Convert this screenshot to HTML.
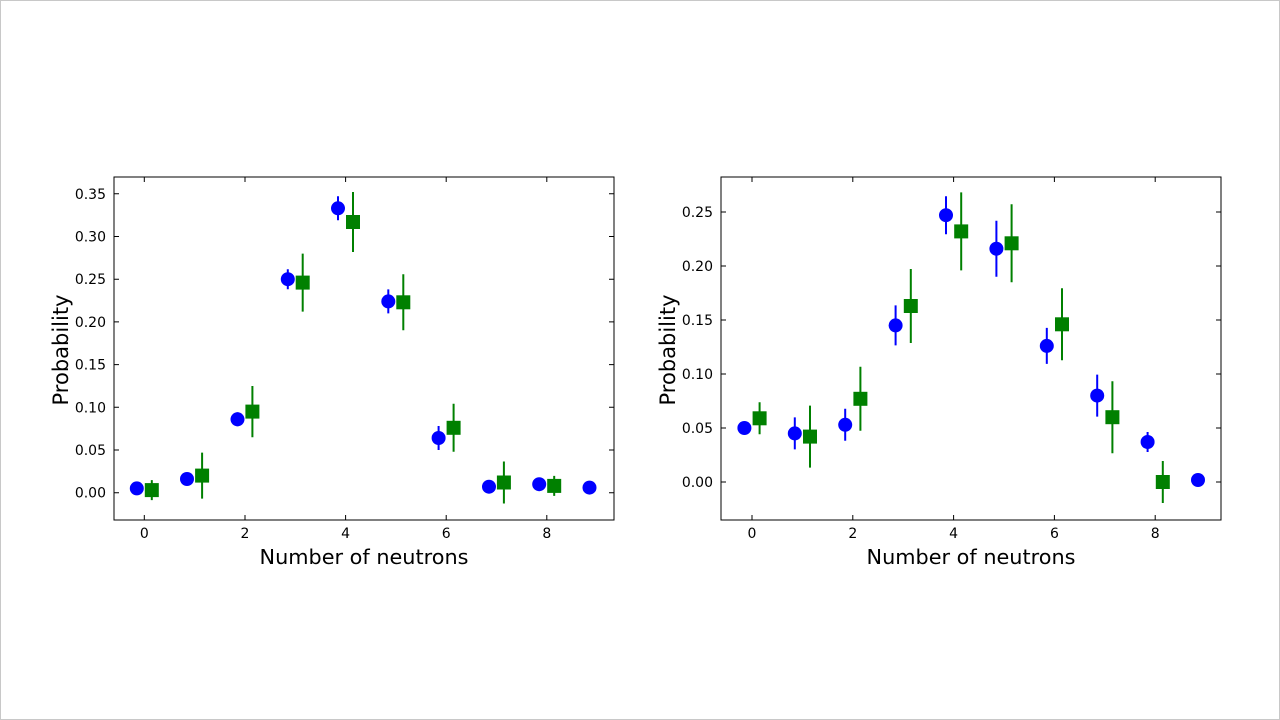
<!DOCTYPE html>
<html><head><meta charset="utf-8"><style>
html,body{margin:0;padding:0;background:#fff;}
svg{display:block;}
text{font-family:"DejaVu Sans","Liberation Sans",sans-serif;fill:#000;}
</style></head><body>
<svg width="1280" height="720" viewBox="0 0 1280 720" xmlns="http://www.w3.org/2000/svg">
<rect x="0.5" y="0.5" width="1279" height="719" fill="#fff" stroke="#c8c8c8"/>
<!-- LEFT -->
<g stroke="#000" stroke-width="1">
<rect x="114" y="177" width="500" height="343" fill="none"/>
<path d="M144.3,520v-5M245,520v-5M345.6,520v-5M446.2,520v-5M546.8,520v-5M144.3,177v5M245,177v5M345.6,177v5M446.2,177v5M546.8,177v5
M114,492.7h5M114,450h5M114,407.3h5M114,364.6h5M114,321.9h5M114,279.2h5M114,236.5h5M114,193.8h5
M614,492.7h-5M614,450h-5M614,407.3h-5M614,364.6h-5M614,321.9h-5M614,279.2h-5M614,236.5h-5M614,193.8h-5"/>
</g>
<g font-size="14" text-anchor="end">
<text x="106" y="497.7">0.00</text><text x="106" y="455">0.05</text><text x="106" y="412.3">0.10</text><text x="106" y="369.6">0.15</text><text x="106" y="326.9">0.20</text><text x="106" y="284.2">0.25</text><text x="106" y="241.5">0.30</text><text x="106" y="198.8">0.35</text>
</g>
<g font-size="14" text-anchor="middle">
<text x="144.3" y="538">0</text><text x="245" y="538">2</text><text x="345.6" y="538">4</text><text x="446.2" y="538">6</text><text x="546.8" y="538">8</text>
</g>
<text x="364" y="564" font-size="20.8" text-anchor="middle">Number of neutrons</text>
<text transform="translate(68,350) rotate(-90)" font-size="21" text-anchor="middle">Probability</text>
<g stroke="#0000ff" stroke-width="2">
<path d="M237.5,412.3v14M287.8,269.2v20M338,196.3v24M388.3,289.4v24M438.6,426v24"/>
</g>
<g fill="#0000ff">
<circle cx="136.8" cy="488.4" r="7"/><circle cx="187" cy="479" r="7"/><circle cx="237.5" cy="419.3" r="7"/><circle cx="287.8" cy="279.2" r="7"/><circle cx="338" cy="208.3" r="7"/><circle cx="388.3" cy="301.4" r="7"/><circle cx="438.6" cy="438" r="7"/><circle cx="489" cy="486.7" r="7"/><circle cx="539.2" cy="484.2" r="7"/><circle cx="589.5" cy="487.6" r="7"/>
</g>
<g stroke="#008000" stroke-width="2">
<path d="M151.8,480.1v20M202.1,452.6v46M252.4,386v51.2M302.7,253.6v58M353,192v60M403.3,274.3v56M453.6,403.8v48M503.9,461.5v42M554.2,475.9v20"/>
</g>
<g fill="#008000">
<rect x="144.8" y="483.1" width="14" height="14"/><rect x="195.1" y="468.6" width="14" height="14"/><rect x="245.4" y="404.6" width="14" height="14"/><rect x="295.7" y="275.6" width="14" height="14"/><rect x="346" y="215" width="14" height="14"/><rect x="396.3" y="295.3" width="14" height="14"/><rect x="446.6" y="420.8" width="14" height="14"/><rect x="496.9" y="475.5" width="14" height="14"/><rect x="547.2" y="478.9" width="14" height="14"/>
</g>
<!-- RIGHT -->
<g stroke="#000" stroke-width="1">
<rect x="721" y="177" width="500" height="343" fill="none"/>
<path d="M752,520v-5M852.8,520v-5M953.6,520v-5M1054.4,520v-5M1155.2,520v-5M752,177v5M852.8,177v5M953.6,177v5M1054.4,177v5M1155.2,177v5
M721,482h5M721,428h5M721,374h5M721,320h5M721,266h5M721,212h5
M1221,482h-5M1221,428h-5M1221,374h-5M1221,320h-5M1221,266h-5M1221,212h-5"/>
</g>
<g font-size="14" text-anchor="end">
<text x="713" y="487">0.00</text><text x="713" y="433">0.05</text><text x="713" y="379">0.10</text><text x="713" y="325">0.15</text><text x="713" y="271">0.20</text><text x="713" y="217">0.25</text>
</g>
<g font-size="14" text-anchor="middle">
<text x="752" y="538">0</text><text x="852.8" y="538">2</text><text x="953.6" y="538">4</text><text x="1054.4" y="538">6</text><text x="1155.2" y="538">8</text>
</g>
<text x="971" y="564" font-size="20.8" text-anchor="middle">Number of neutrons</text>
<text transform="translate(675,350) rotate(-90)" font-size="21" text-anchor="middle">Probability</text>
<g stroke="#0000ff" stroke-width="2">
<path d="M744.4,421.5v13M794.8,417.4v32M845.2,408.8v32M895.6,305.4v40M946,196.2v38M996.4,220.7v56M1046.8,327.9v36M1097.2,374.6v42M1147.6,432v20"/>
</g>
<g fill="#0000ff">
<circle cx="744.4" cy="428" r="7"/><circle cx="794.8" cy="433.4" r="7"/><circle cx="845.2" cy="424.8" r="7"/><circle cx="895.6" cy="325.4" r="7"/><circle cx="946" cy="215.2" r="7"/><circle cx="996.4" cy="248.7" r="7"/><circle cx="1046.8" cy="345.9" r="7"/><circle cx="1097.2" cy="395.6" r="7"/><circle cx="1147.6" cy="442" r="7"/><circle cx="1198" cy="480" r="7"/>
</g>
<g stroke="#008000" stroke-width="2">
<path d="M759.6,402.3v32M810,405.6v62M860.4,366.8v64M910.8,269v74M961.2,192.4v78M1011.6,204.3v78M1062,288.3v72M1112.4,381.2v72M1162.8,461v42"/>
</g>
<g fill="#008000">
<rect x="752.6" y="411.3" width="14" height="14"/><rect x="803" y="429.6" width="14" height="14"/><rect x="853.4" y="391.8" width="14" height="14"/><rect x="903.8" y="299" width="14" height="14"/><rect x="954.2" y="224.4" width="14" height="14"/><rect x="1004.6" y="236.3" width="14" height="14"/><rect x="1055" y="317.3" width="14" height="14"/><rect x="1105.4" y="410.2" width="14" height="14"/><rect x="1155.8" y="475" width="14" height="14"/>
</g>
</svg>
</body></html>
